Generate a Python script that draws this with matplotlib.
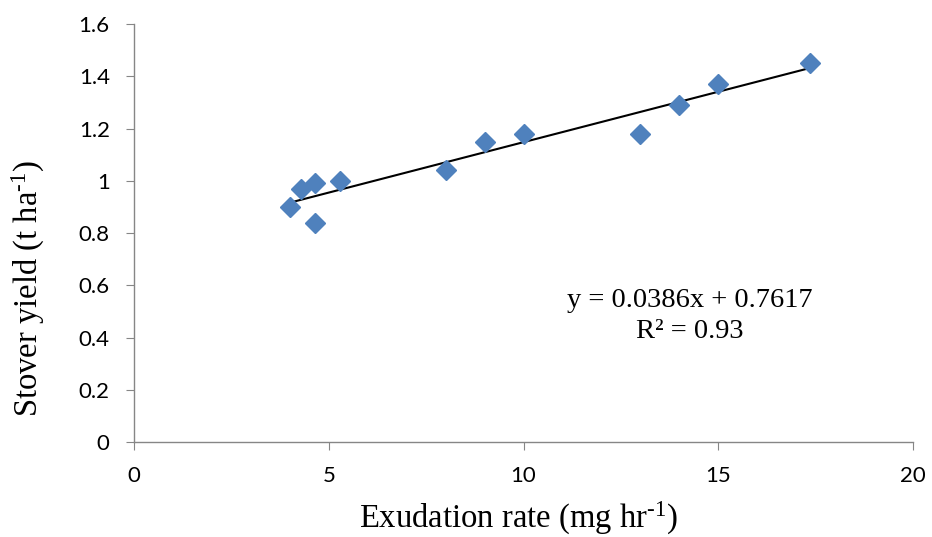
import matplotlib.pyplot as plt
import numpy as np

plt.rcParams['mathtext.fontset'] = 'custom'
plt.rcParams['mathtext.rm'] = 'Liberation Serif'
plt.rcParams['mathtext.it'] = 'Liberation Serif:italic'

# exudation rate (mg/hr) and stover yield (t/ha)
exudation = [4.0, 4.3, 4.65, 4.65, 5.3, 8.0, 9.0, 10.0, 13.0, 14.0, 15.0, 17.35]
stover = [0.90, 0.97, 0.99, 0.84, 1.00, 1.04, 1.15, 1.18, 1.18, 1.29, 1.37, 1.45]

slope = 0.0386
intercept = 0.7617
r2 = 0.93

fig = plt.figure(figsize=(9.32, 5.37), dpi=100)
ax = fig.add_axes([0.1438, 0.1769, 0.8358, 0.7784])

ax.plot(exudation, stover, linestyle='none', marker='D', markersize=10,
        color='#4F81BD', markeredgecolor='#4F81BD', zorder=3)

xs = np.array([min(exudation), max(exudation)])
ax.plot(xs, slope * xs + intercept, color='black', linewidth=1.5, zorder=2)

ax.set_xlim(0, 20)
ax.set_ylim(0, 1.6)
ax.set_xticks([0, 5, 10, 15, 20])
ax.set_yticks(np.arange(0, 1.61, 0.2))
ax.set_yticklabels(['0', '0.2', '0.4', '0.6', '0.8', '1', '1.2', '1.4', '1.6'])

for s in ['top', 'right']:
    ax.spines[s].set_visible(False)
for s in ['left', 'bottom']:
    ax.spines[s].set_color('#868686')
    ax.spines[s].set_linewidth(1.0)
ax.tick_params(direction='out', length=5.5, color='#868686', labelsize=16, pad=12)
for lab in ax.get_xticklabels() + ax.get_yticklabels():
    lab.set_family(['Lato', 'DejaVu Sans'])

serif = ['Liberation Serif', 'DejaVu Serif']
# axis titles placed like the original (the y title sits below the axis centre)
fig.text(518 / 932, 1 - 518 / 537, r'Exudation rate (mg hr$^{\text{-1}}$)',
         family=serif, fontsize=23.5, ha='center', va='center')
fig.text(28 / 932, 1 - 288 / 537, r'Stover yield (t ha$^{\text{-1}}$)',
         family=serif, fontsize=23.5, ha='center', va='center', rotation=90)

ax.text(0.713, 0.302, 'y = %.4fx + %.4f\nR² = %.2f' % (slope, intercept, r2),
        transform=ax.transAxes, ha='center', va='center', family=serif,
        fontsize=20.5, linespacing=1.3)

fig.savefig('out.png', dpi=100)
